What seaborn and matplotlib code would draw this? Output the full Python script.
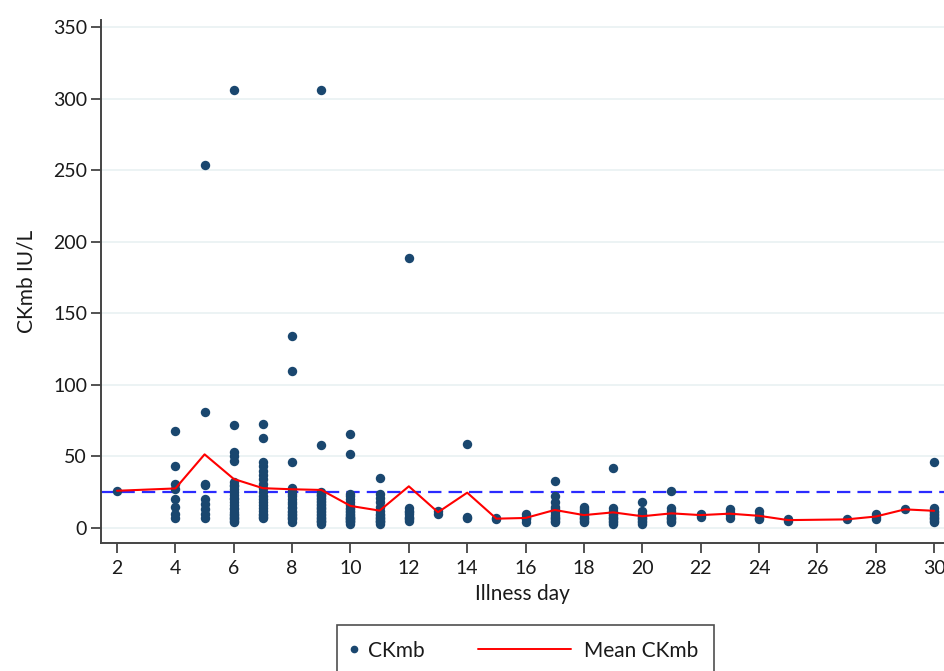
import matplotlib
matplotlib.use("Agg")
import matplotlib.pyplot as plt
from matplotlib.lines import Line2D
from matplotlib.legend_handler import HandlerBase
import seaborn as sns
import pandas as pd

# ---- data ----
days = [2, 4, 5, 6, 7, 8, 9, 10, 11, 12, 13, 14, 15, 16, 17, 18, 19, 20,
        21, 22, 23, 24, 25, 27, 28, 29, 30]
ckmb_values = [
    [26],
    [68, 43, 31, 27, 20, 15, 10, 7],
    [254, 81, 31, 30, 20, 17, 13, 10, 7],
    [306, 72, 53, 50, 47, 32, 30, 29, 27, 25, 23, 21, 20, 18, 16, 14, 13, 11, 10, 9, 8, 7, 6, 5, 4],
    [73, 63, 46, 43, 40, 37, 34, 31, 28, 25, 22, 20, 18, 16, 14, 12, 10, 9, 8, 7],
    [134, 110, 46, 28, 26, 24, 22, 20, 18, 17, 15, 14, 12, 11, 10, 9, 8, 7, 6, 4],
    [306, 58, 25, 24, 23, 22, 21, 20, 19, 18, 17, 16, 15, 14, 13, 12, 11, 10, 9, 8, 7, 6, 5, 4, 3, 5],
    [66, 52, 24, 22, 20, 18, 16, 14, 13, 12, 11, 10, 9, 8, 7, 6, 5, 4, 3, 5, 6, 8],
    [35, 24, 21, 18, 15, 12, 10, 9, 8, 7, 6, 5, 5, 4, 3],
    [189, 14, 12, 11, 10, 8, 7, 6, 5],
    [12, 10],
    [59, 8, 7],
    [7, 6],
    [10, 8, 7, 6, 4],
    [33, 22, 18, 15, 13, 11, 9, 8, 7, 6, 5, 4],
    [15, 13, 12, 11, 9, 8, 7, 6, 5, 4],
    [42, 14, 12, 10, 9, 8, 7, 6, 5, 4, 3],
    [18, 12, 10, 9, 8, 7, 6, 5, 4, 3],
    [26, 14, 12, 10, 8, 7, 6, 5, 4],
    [10, 9, 8],
    [13, 11, 9, 7],
    [12, 9, 7, 6],
    [6, 5],
    [6],
    [10, 8, 6],
    [13],
    [46, 14, 12, 11, 10, 9, 8, 7, 6, 5, 4],
]
reference_level = 25
x_ticks = list(range(2, 31, 2))
y_ticks = list(range(0, 351, 50))
legend_labels = ["CKmb", "Mean CKmb"]

rows = [(d, v) for d, vals in zip(days, ckmb_values) for v in vals]
df = pd.DataFrame(rows, columns=["day", "ckmb"])

# ---- style ----
sns.set_style("white")
plt.rcParams["font.family"] = ["Lato", "DejaVu Sans"]
navy = "#1a476f"
axis_col = "#444444"
text_col = "#1a1a1a"
PX = 0.72  # points per pixel at dpi 100

fig = plt.figure(figsize=(9.44, 6.71), dpi=100)
ax = fig.add_axes([101 / 944, 1 - 543 / 671, 1 - 101 / 944, (543 - 20) / 671])

for yv in y_ticks:
    ax.axhline(yv, color="#eaf2f3", lw=1.3, zorder=0)
ax.axhline(reference_level, color="#2b2bff", lw=1.6, ls=(0, (6, 3.2)), zorder=1)

sns.scatterplot(data=df, x="day", y="ckmb", color=navy, s=46, linewidth=0,
                ax=ax, zorder=3, legend=False)
sns.lineplot(data=df, x="day", y="ckmb", estimator="mean", errorbar=None,
             color="red", lw=1.5, ax=ax, zorder=4, legend=False)

ax.set_xlim(1.45, 30.34)
ax.set_ylim(-10.5, 355)
ax.set_xticks(x_ticks)
ax.set_yticks(y_ticks)
ax.tick_params(axis="both", direction="out", length=7, width=1.3, color=axis_col,
               labelsize=14, labelcolor=text_col, bottom=True, left=True)
ax.tick_params(axis="x", pad=5)
ax.tick_params(axis="y", pad=3)
for s in ["top", "right"]:
    ax.spines[s].set_visible(False)
for s in ["left", "bottom"]:
    ax.spines[s].set_color(axis_col)
    ax.spines[s].set_linewidth(1.4)

ax.set_xlabel("Illness day", fontsize=15, color=text_col, labelpad=5)
ax.set_ylabel("CKmb IU/L", fontsize=15, color=text_col, labelpad=12)


class DotHandler(HandlerBase):
    def create_artists(self, legend, orig_handle, xdescent, ydescent,
                       width, height, fontsize, trans):
        ln = Line2D([-xdescent + 1.0 * PX], [height / 2 - ydescent],
                    marker="o", markersize=4.5, color=navy, linestyle="none",
                    transform=trans)
        return [ln]


class LongLineHandler(HandlerBase):
    def create_artists(self, legend, orig_handle, xdescent, ydescent,
                       width, height, fontsize, trans):
        y = height / 2 - ydescent
        ln = Line2D([-xdescent - 91 * PX, -xdescent + 2 * PX], [y, y],
                    color="red", lw=1.4, transform=trans)
        return [ln]


dot_handle = Line2D([], [], marker="o", color=navy, linestyle="none")
line_handle = Line2D([], [], color="red", lw=1.4)
leg = ax.legend([dot_handle, line_handle], legend_labels,
                handler_map={dot_handle: DotHandler(), line_handle: LongLineHandler()},
                loc="upper center", bbox_to_anchor=(0.5036, -0.1568), ncol=2,
                frameon=True, fancybox=False, edgecolor="#222222",
                fontsize=15, handlelength=0.4, handletextpad=0.35,
                columnspacing=6.9, borderpad=0.75, borderaxespad=0)
leg.get_frame().set_linewidth(1.2)
for t in leg.get_texts():
    t.set_color(text_col)

fig.savefig("out.png", dpi=100)
